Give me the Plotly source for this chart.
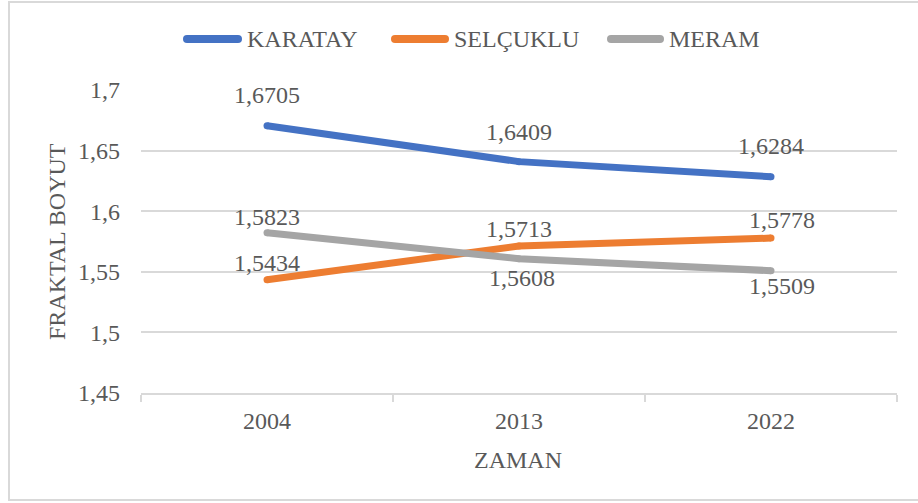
import plotly.graph_objects as go

# ---- data ----
years = ["2004", "2013", "2022"]
karatay = [1.6705, 1.6409, 1.6284]
selcuklu = [1.5434, 1.5713, 1.5778]
meram = [1.5823, 1.5608, 1.5509]
series_names = ["KARATAY", "SELÇUKLU", "MERAM"]
y_tick_vals = [1.45, 1.5, 1.55, 1.6, 1.65, 1.7]
y_tick_text = ["1,45", "1,5", "1,55", "1,6", "1,65", "1,7"]

# ---- styling ----
W, H = 918, 503
L, R, T, B = 141, 21, 90, 110
PW, PH = W - L - R, H - T - B
FONT = "Liberation Serif"
TXT = "#595959"
GRID = "#D9D9D9"
colors = ["#4472C4", "#ED7D31", "#A5A5A5"]
LW = 7

# label offsets (px) for each series' value labels: (xshift, yshift)
label_offsets = [
    [(0, 31), (0, 30), (0, 31)],
    [(0, 17), (0, 17), (11, 18)],
    [(0, 16), (3, -19), (11, -15)],
]


def px_x(px):
    return (px - L) / PW


def px_y(py):
    return (H - B - py) / PH


def fmt(v):
    return f"{v:.4f}".replace(".", ",")


fig = go.Figure()
all_series = [karatay, selcuklu, meram]
for name, vals, col in zip(series_names, all_series, colors):
    fig.add_trace(go.Scatter(
        x=years, y=vals, name=name, mode="lines+markers",
        line=dict(color=col, width=LW),
        marker=dict(color=col, size=LW, line=dict(width=0)),
        showlegend=False, hoverinfo="skip",
    ))

annotations = []
for vals, offs in zip(all_series, label_offsets):
    for i, (v, (dx, dy)) in enumerate(zip(vals, offs)):
        # category axis: position by category index
        annotations.append(dict(
            x=i, y=v, xref="x", yref="y", text=fmt(v), showarrow=False,
            xshift=dx, yshift=dy, font=dict(family=FONT, size=24, color=TXT),
        ))

# axis titles
annotations.append(dict(
    x=px_x(57), y=px_y(242), xref="paper", yref="paper", text="FRAKTAL BOYUT",
    textangle=-90, showarrow=False, xanchor="center", yanchor="middle",
    font=dict(family=FONT, size=24, color=TXT),
))
annotations.append(dict(
    x=px_x(518), y=px_y(460), xref="paper", yref="paper", text="ZAMAN",
    showarrow=False, xanchor="center", yanchor="middle",
    font=dict(family=FONT, size=24, color=TXT),
))

# legend drawn across the top
shapes = []
legend_items = [(183, 242, 245), (391, 449, 452), (607, 664, 667)]
leg_y = 39
for (x0, x1, tx), name, col in zip(legend_items, series_names, colors):
    shapes.append(dict(type="line", xref="paper", yref="paper",
                       x0=px_x(x0 + 4), x1=px_x(x1 - 4), y0=px_y(leg_y), y1=px_y(leg_y),
                       line=dict(color=col, width=8)))
    for cx in (x0 + 4, x1 - 4):
        shapes.append(dict(type="circle", xref="paper", yref="paper",
                           x0=px_x(cx - 4), x1=px_x(cx + 4),
                           y0=px_y(leg_y + 4), y1=px_y(leg_y - 4),
                           fillcolor=col, line=dict(width=0)))
    annotations.append(dict(
        x=px_x(tx), y=px_y(leg_y), xref="paper", yref="paper", text=name,
        showarrow=False, xanchor="left", yanchor="middle",
        font=dict(family=FONT, size=24, color=TXT),
    ))

# chart border
shapes.append(dict(type="rect", xref="paper", yref="paper",
                   x0=px_x(9), x1=px_x(922), y0=px_y(500), y1=px_y(2),
                   line=dict(color=GRID, width=2), fillcolor="rgba(0,0,0,0)",
                   layer="below"))

fig.update_layout(
    width=W, height=H,
    margin=dict(l=L, r=R, t=T, b=B, pad=0),
    paper_bgcolor="white", plot_bgcolor="white",
    font=dict(family=FONT, size=24, color=TXT),
    separators=",.",
    annotations=annotations,
    shapes=shapes,
    xaxis=dict(
        type="category", range=[-0.5, 2.5], tickson="boundaries",
        ticks="outside", ticklen=7, tickcolor=GRID, tickwidth=2,
        showline=True, linecolor=GRID, linewidth=2, showgrid=False,
        zeroline=False, tickfont=dict(family=FONT, size=24, color=TXT),
        ticklabelstandoff=5,
    ),
    yaxis=dict(
        range=[1.45, 1.7], tickvals=y_tick_vals, ticktext=y_tick_text,
        showgrid=True, gridcolor=GRID, gridwidth=2, zeroline=False,
        showline=False, ticks="", ticklabelstandoff=20,
        tickfont=dict(family=FONT, size=24, color=TXT),
    ),
)

fig.write_html("out.html")
